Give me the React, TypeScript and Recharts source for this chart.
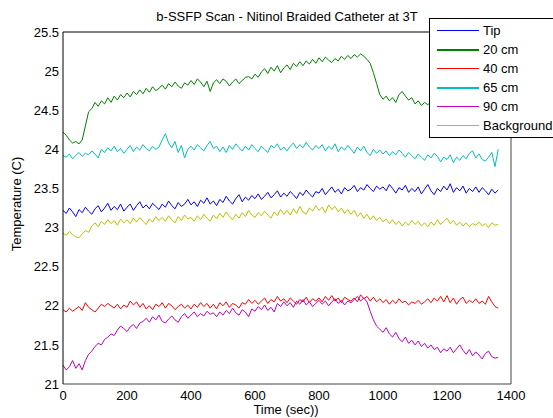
import { LineChart, Line, XAxis, YAxis, Legend } from "recharts";

const TITLE = "b-SSFP Scan - Nitinol Braided Catheter at 3T";
const X_TICKS = [0, 200, 400, 600, 800, 1000, 1200, 1400];
const Y_TICKS = [21, 21.5, 22, 22.5, 23, 23.5, 24, 24.5, 25, 25.5];
const STEP = 10; // seconds between samples

// temperatures, one sample every 10 s from 0 to 1360 s
const tip = [
  23.22, 23.18, 23.25, 23.2, 23.14, 23.23, 23.19, 23.26, 23.21, 23.17,
  23.24, 23.28, 23.2, 23.25, 23.31, 23.22, 23.27, 23.23, 23.3, 23.21,
  23.26, 23.3, 23.22, 23.28, 23.33, 23.25, 23.29, 23.24, 23.31, 23.27,
  23.23, 23.3, 23.26, 23.34, 23.28, 23.24, 23.32, 23.27, 23.3, 23.36,
  23.29, 23.33, 23.27, 23.35, 23.31, 23.38, 23.3, 23.34, 23.28, 23.36,
  23.32, 23.4, 23.34, 23.3, 23.37, 23.42, 23.33, 23.39, 23.35, 23.41,
  23.37, 23.43, 23.36, 23.4, 23.45, 23.38, 23.42, 23.47, 23.39, 23.44,
  23.4, 23.46, 23.42, 23.37, 23.45, 23.41, 23.48, 23.43, 23.39, 23.46,
  23.44, 23.5, 23.42, 23.47, 23.52, 23.45, 23.49, 23.43, 23.51, 23.47,
  23.49, 23.54, 23.46, 23.51, 23.48, 23.55, 23.5, 23.46, 23.53, 23.49,
  23.52, 23.47, 23.55, 23.5, 23.44, 23.51, 23.48, 23.54, 23.45, 23.5,
  23.46, 23.52, 23.43, 23.49, 23.55, 23.47, 23.42, 23.5, 23.46, 23.53,
  23.48, 23.56, 23.45, 23.51, 23.47, 23.53, 23.44, 23.5, 23.46, 23.52,
  23.45, 23.51, 23.47, 23.42, 23.49, 23.44, 23.48,
];

const cm20 = [
  24.22, 24.18, 24.12, 24.08, 24.1, 24.07, 24.12, 24.3, 24.48, 24.52,
  24.6, 24.55, 24.62, 24.58, 24.66, 24.6, 24.68, 24.63, 24.7, 24.66,
  24.72, 24.67, 24.74, 24.7, 24.76, 24.71, 24.78, 24.73, 24.8, 24.75,
  24.78, 24.82, 24.77, 24.84, 24.8, 24.86, 24.81, 24.78, 24.85, 24.82,
  24.88, 24.83, 24.9, 24.86, 24.8, 24.87, 24.74, 24.85, 24.89, 24.84,
  24.9, 24.87, 24.81, 24.86, 24.9, 24.84, 24.88, 24.92, 24.93, 24.9,
  24.96, 24.92, 24.99, 25.03, 24.97, 25.05, 25.0, 25.07, 24.98, 25.04,
  25.08, 25.02, 25.1, 25.06, 25.12, 25.07, 25.13, 25.09, 25.15, 25.1,
  25.17, 25.12, 25.18, 25.14, 25.11, 25.16, 25.13, 25.19, 25.15, 25.2,
  25.16, 25.21, 25.18, 25.22, 25.19, 25.15, 25.1, 24.98, 24.84, 24.7,
  24.64, 24.68, 24.62, 24.66, 24.6, 24.7, 24.74, 24.68, 24.63, 24.66,
  24.58, 24.62, 24.56, 24.6, 24.57, 24.61, 24.55, 24.59, 24.54, 24.58,
  24.53, 24.57, 24.52, 24.56, 24.51, 24.55, 24.5, 24.54, 24.49, 24.53,
  24.5, 24.54, 24.48, 24.52, 24.49, 24.51, 24.5,
];

const cm40 = [
  21.95, 21.92, 21.97, 21.93, 21.96, 21.99, 21.94, 22.04, 21.98, 21.95,
  21.92, 21.97, 22.02, 21.99, 22.03, 22.0, 21.97, 22.02, 21.96, 22.01,
  21.98, 22.06, 22.01, 22.05, 21.98, 22.03, 21.96, 22.0, 21.95, 22.02,
  21.99, 22.04, 21.97, 22.03, 22.0, 21.95, 21.99, 22.02, 21.97, 22.01,
  21.96, 22.02, 21.98, 22.04, 21.99, 22.03, 21.97, 22.02, 21.96, 22.04,
  22.0, 22.05, 21.98, 22.03, 22.01, 21.97, 22.04, 22.02, 22.08, 22.03,
  22.07, 22.02, 22.06, 22.1, 22.03, 22.08, 22.05, 22.12, 22.06, 22.09,
  22.04, 22.1, 22.06, 22.02, 22.08, 22.05, 22.11, 22.04, 22.09, 22.06,
  22.1, 22.05, 22.12, 22.07, 22.13, 22.06, 22.1, 22.04, 22.11, 22.08,
  22.06, 22.1, 22.05, 22.14, 22.09, 22.12, 22.06, 22.11, 22.05, 22.09,
  22.04, 22.08, 22.02, 22.07, 22.03, 22.09, 22.04, 22.06, 22.01, 22.05,
  22.03, 22.07, 22.02, 22.05, 22.09, 22.04, 22.1, 22.06, 22.12, 22.05,
  22.13, 22.04, 22.1, 22.02, 22.08, 22.11, 22.03, 22.07, 22.04, 22.09,
  22.03, 22.06, 22.02, 22.12, 22.05, 21.99, 21.97,
];

const cm65 = [
  23.92, 23.9, 23.94, 23.88, 23.92, 23.96, 23.91, 23.95, 23.93, 23.98,
  23.94, 23.89, 24.0, 23.96, 24.02, 23.98, 24.04, 23.97, 24.01, 23.95,
  24.0, 24.05, 23.97, 24.03, 23.99, 24.06, 24.01, 23.98, 24.04, 24.0,
  24.03, 24.12, 24.2, 24.08, 24.02, 24.1, 23.96, 24.05, 23.89, 24.0,
  24.04, 23.99, 24.06, 24.02, 23.98, 24.05, 24.1, 24.01, 24.04, 23.97,
  24.03, 23.96, 24.05, 24.0, 24.07, 24.02, 23.98, 24.04, 23.99, 24.06,
  24.01, 23.97, 24.04, 24.0, 23.96, 24.05, 24.02, 24.07, 23.99, 24.03,
  23.98, 24.04, 24.08, 24.01, 24.06, 24.02, 24.09, 24.03, 23.99, 24.05,
  24.01, 24.06, 23.98, 24.04, 24.0, 24.07, 23.97, 24.03, 23.99, 24.05,
  24.0, 23.95, 24.03, 23.98, 24.04, 23.96, 23.92, 24.0, 23.95, 23.99,
  23.94, 23.98, 23.92, 23.97, 23.93, 23.99, 23.95, 23.9, 23.96, 23.92,
  23.88, 23.94, 23.9, 23.86, 23.93, 23.89, 23.95, 23.91, 23.84, 23.9,
  23.87, 23.93, 23.83, 23.9, 23.86, 23.92, 23.88, 23.95, 23.98, 23.89,
  23.94, 23.87, 23.85, 23.9, 23.96, 23.78, 24.0,
];

const cm90 = [
  21.24, 21.18, 21.22, 21.3, 21.2, 21.26, 21.18, 21.3, 21.38, 21.42,
  21.48, 21.52, 21.5, 21.57, 21.6, 21.64, 21.62, 21.69, 21.74, 21.71,
  21.67, 21.73, 21.76, 21.71, 21.78, 21.8, 21.84, 21.79, 21.86, 21.82,
  21.88, 21.8, 21.78, 21.83, 21.87, 21.82, 21.79, 21.86, 21.9, 21.84,
  21.88, 21.92, 21.86, 21.9, 21.87, 21.93, 21.89, 21.91, 21.86, 21.92,
  21.88, 21.94, 21.9, 21.97, 21.91, 21.88, 21.95, 21.92, 21.86, 21.96,
  21.93, 21.99, 21.95, 22.01, 21.94, 21.98, 21.92, 22.03, 21.99, 22.05,
  22.0, 22.04, 21.98, 22.06, 22.02, 22.08, 22.01, 22.05, 21.99, 22.03,
  22.07, 22.02, 22.06, 22.0, 22.05, 22.09, 22.03, 22.07, 22.01, 22.06,
  22.04, 22.08, 22.12, 22.06, 22.1, 22.05, 21.93, 21.82, 21.74, 21.7,
  21.66, 21.72, 21.64, 21.6, 21.66, 21.58, 21.54, 21.6, 21.52, 21.56,
  21.5, 21.55, 21.48, 21.52, 21.46, 21.5, 21.44, 21.47, 21.4, 21.45,
  21.42, 21.47, 21.4, 21.45, 21.5, 21.43, 21.38, 21.44, 21.36, 21.41,
  21.37, 21.32, 21.39, 21.42, 21.35, 21.33, 21.34,
];

const background = [
  22.93, 22.9, 22.95, 22.91, 22.88, 22.87, 22.92, 22.96, 22.94, 23.02,
  23.06, 23.01, 23.08, 23.04, 23.1, 23.05, 23.09, 23.03, 23.11, 23.06,
  23.1, 23.05, 23.12, 23.07, 23.13, 23.08, 23.04, 23.11, 23.07, 23.14,
  23.09, 23.13, 23.08, 23.15, 23.1, 23.06, 23.14, 23.09, 23.16, 23.11,
  23.13, 23.08, 23.15, 23.1, 23.17, 23.12, 23.08, 23.16, 23.11, 23.18,
  23.13, 23.2, 23.14, 23.1, 23.17, 23.12, 23.19, 23.14, 23.22, 23.16,
  23.13, 23.19, 23.15, 23.21, 23.16, 23.12, 23.2, 23.15, 23.23, 23.17,
  23.22, 23.16, 23.24, 23.18, 23.27, 23.2, 23.17, 23.25, 23.21, 23.28,
  23.22, 23.26, 23.19, 23.29, 23.23, 23.27, 23.2, 23.25, 23.18, 23.23,
  23.17, 23.22, 23.14, 23.19, 23.12, 23.17, 23.1, 23.15, 23.09, 23.13,
  23.07, 23.11, 23.05, 23.1, 23.04, 23.08, 23.02, 23.07, 23.03, 23.09,
  23.04, 23.08, 23.02, 23.06, 23.01, 23.07, 23.03, 23.1, 23.04, 23.08,
  23.12, 23.05, 23.09, 23.03, 23.07, 23.02, 23.06, 23.01, 23.05, 23.03,
  23.07, 23.02, 23.05, 23.0, 23.06, 23.03, 23.04,
];

const SERIES = [
  { key: "tip", name: "Tip", color: "#0000ff", values: tip, legendWidth: 1 },
  { key: "cm20", name: "20 cm", color: "#008000", values: cm20, legendWidth: 2 },
  { key: "cm40", name: "40 cm", color: "#ff0000", values: cm40, legendWidth: 1 },
  { key: "cm65", name: "65 cm", color: "#00bfbf", values: cm65, legendWidth: 2 },
  { key: "cm90", name: "90 cm", color: "#bf00bf", values: cm90, legendWidth: 1 },
  { key: "bg", name: "Background", color: "#bfbf00", values: background, legendWidth: 1 },
];

const rows = tip.map((_, i) => {
  const row: Record<string, number> = { t: i * STEP };
  SERIES.forEach((s) => (row[s.key] = s.values[i]));
  return row;
});

const FONT = '"Liberation Sans", Arial, sans-serif';
const tickStyle = { fontSize: 13, fill: "#000", fontFamily: FONT };

const TitleText = () => (
  <text x={287} y={21} textAnchor="middle" fontSize={13} fontFamily={FONT} fill="#000">
    {TITLE}
  </text>
);

const XLabelText = () => (
  <text x={286} y={414} textAnchor="middle" fontSize={13} fontFamily={FONT} fill="#000">
    Time (sec))
  </text>
);

const YLabelText = () => (
  <text
    x={21}
    y={204}
    transform="rotate(-90 21 204)"
    textAnchor="middle"
    fontSize={13}
    fontFamily={FONT}
    fill="#000"
  >
    Temperature (C)
  </text>
);

const LegendBox = () => (
  <div
    style={{
      width: 130,
      height: 120,
      boxSizing: "border-box",
      border: "1px solid #000",
      background: "#fff",
      paddingTop: 2,
      fontFamily: FONT,
      fontSize: 13,
      lineHeight: "19px",
      color: "#000",
    }}
  >
    {SERIES.map((s) => (
      <div key={s.key} style={{ height: 19, display: "flex", alignItems: "center" }}>
        <div
          style={{
            flex: "none",
            marginLeft: 7,
            marginRight: 4,
            width: 42,
            height: s.legendWidth,
            background: s.color,
          }}
        />
        <span style={{ whiteSpace: "nowrap" }}>{s.name}</span>
      </div>
    ))}
  </div>
);

export default function App() {
  return (
    <div
      style={{
        position: "absolute",
        left: 0,
        top: 0,
        width: 553,
        height: 418,
        overflow: "hidden",
        background: "#fff",
      }}
    >
      <LineChart
        width={553}
        height={418}
        data={rows}
        margin={{ top: 32, right: 42, bottom: 14, left: 23 }}
      >
        <XAxis
          xAxisId="x"
          dataKey="t"
          type="number"
          domain={[0, 1400]}
          ticks={X_TICKS}
          interval={0}
          height={20}
          tickLine={false}
          tickSize={3}
          tickMargin={4}
          tick={tickStyle}
          axisLine={{ stroke: "#444" }}
          label={{ content: XLabelText }}
        />
        <XAxis
          xAxisId="xb"
          type="number"
          domain={[0, 1400]}
          ticks={X_TICKS}
          mirror
          tick={false}
          tickSize={5}
          tickLine={{ stroke: "#444" }}
          axisLine={false}
        />
        <XAxis
          xAxisId="xt"
          orientation="top"
          type="number"
          domain={[0, 1400]}
          ticks={X_TICKS}
          mirror
          tick={false}
          tickSize={5}
          tickLine={{ stroke: "#000" }}
          axisLine={{ stroke: "#000" }}
          label={{ content: TitleText }}
        />
        <YAxis
          yAxisId="y"
          type="number"
          domain={[21, 25.5]}
          ticks={Y_TICKS}
          interval={0}
          width={40}
          tickLine={false}
          tickSize={2}
          tickMargin={2}
          tick={tickStyle}
          axisLine={{ stroke: "#000" }}
          label={{ content: YLabelText }}
        />
        <YAxis
          yAxisId="yl"
          type="number"
          domain={[21, 25.5]}
          ticks={Y_TICKS}
          mirror
          tick={false}
          tickSize={5}
          tickLine={{ stroke: "#000" }}
          axisLine={false}
        />
        <YAxis
          yAxisId="yr"
          orientation="right"
          type="number"
          domain={[21, 25.5]}
          ticks={Y_TICKS}
          mirror
          tick={false}
          tickSize={5}
          tickLine={{ stroke: "#444" }}
          axisLine={{ stroke: "#444" }}
        />
        {SERIES.map((s) => (
          <Line
            key={s.key}
            xAxisId="x"
            yAxisId="y"
            dataKey={s.key}
            name={s.name}
            type="linear"
            stroke={s.color}
            strokeWidth={1}
            dot={false}
            activeDot={false}
            isAnimationActive={false}
          />
        ))}
        <Legend
          layout="horizontal"
          align="center"
          verticalAlign="middle"
          content={LegendBox}
          wrapperStyle={{ left: 429, top: 18, width: 130, height: 120 }}
        />
      </LineChart>
    </div>
  );
}
